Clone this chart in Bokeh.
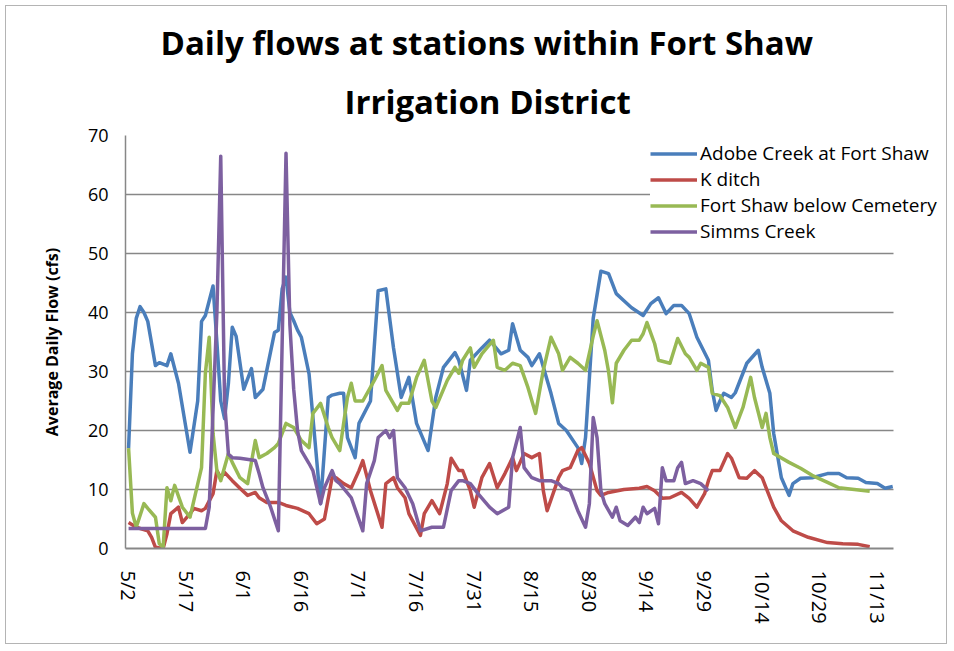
from bokeh.plotting import figure
from bokeh.models import FixedTicker, Title, Range1d
from bokeh.embed import file_html
from bokeh.resources import INLINE

# x = days after 5/2
tick_days = [0, 15, 30, 45, 60, 75, 90, 105, 120, 135, 150, 165, 180, 195]
tick_labels = ["5/2", "5/17", "6/1", "6/16", "7/1", "7/16", "7/31", "8/15",
               "8/30", "9/14", "9/29", "10/14", "10/29", "11/13"]
y_ticks = [0, 10, 20, 30, 40, 50, 60, 70]

series_names = ["Adobe Creek at Fort Shaw", "K ditch", "Fort Shaw below Cemetery", "Simms Creek"]

adobe_day = [0, 1, 2, 3, 4, 5, 7, 8, 10, 11, 12, 13, 16, 18, 19, 20, 21, 22, 23, 24, 25, 26, 27, 28,
             30, 32, 33, 35, 38, 39, 40, 41, 42, 43, 44, 45, 47, 50, 52, 53, 55, 56, 57, 59, 60, 63,
             65, 67, 69, 71, 73, 75, 78, 80, 82, 85, 86, 88, 89, 92, 94, 97, 99, 100, 102, 104, 105,
             107, 110, 112, 114, 117, 118, 119, 121, 123, 125, 127, 129, 131, 134, 136, 138, 140,
             142, 144, 146, 148, 151, 152, 153, 154, 155, 157, 158, 161, 164, 165, 167, 168, 170,
             172, 173, 175, 178, 182, 185, 187, 190, 192, 195, 197, 199]
adobe_cfs = [17, 33, 39, 41, 40, 38.5, 31, 31.5, 31, 33, 30.5, 28, 16.3, 25, 38.5, 39.5, 42, 44.5,
             35, 25, 22, 28, 37.5, 36, 27, 30.5, 25.6, 27, 36.6, 37, 44, 46, 40, 38.6, 37, 35.8,
             29.6, 7.6, 25.6, 26, 26.3, 26.3, 18.8, 15.4, 21.2, 25, 43.7, 44, 34, 25.6, 29, 21.2,
             16.6, 25.6, 30.7, 33.2, 31.9, 26.8, 31.9, 34, 35.3, 33, 33.6, 38.1, 33.6, 32.4, 31,
             33, 26.3, 21.2, 20, 17.1, 14.4, 18.8, 39, 47, 46.6, 43.2, 42, 40.8, 39.5, 41.5, 42.5,
             39.8, 41.2, 41.2, 39.8, 35.8, 31.9, 26.8, 23.4, 25, 26.3, 25.6, 26.4, 31.4, 33.6,
             30.7, 26.3, 19.5, 12, 9, 11, 11.9, 12, 12.7, 12.7, 12, 11.9, 11.2, 11, 10.2, 10.5]

kditch_day = [0, 2, 5, 6, 7, 9, 10, 11, 13, 14, 16, 17, 19, 20, 22, 23, 24, 25, 27, 29, 31, 33, 34,
              36, 39, 41, 44, 47, 49, 51, 53, 54, 55, 56, 58, 60, 61, 63, 66, 67, 69, 70, 72, 73,
              76, 77, 79, 81, 83, 84, 86, 87, 89, 90, 92, 94, 96, 98, 100, 101, 103, 105, 107, 108,
              109, 112, 113, 115, 117, 118, 120, 122, 123, 125, 129, 133, 135, 137, 139, 141, 144,
              146, 148, 150, 151, 152, 154, 156, 157, 159, 161, 163, 165, 166, 168, 170, 173, 177,
              182, 186, 190, 193]
kditch_cfs = [4.4, 3.6, 3, 1.9, 0.2, 0, 2.5, 5.9, 7, 4.4, 5.9, 6.8, 6.4, 6.8, 9.3, 13.2, 12, 12.9,
              11.5, 10.2, 9, 9.5, 8.6, 7.8, 7.8, 7.3, 6.8, 5.9, 4.2, 5, 12, 12, 11.5, 11, 10.3,
              13.2, 14.9, 9.8, 3.6, 11, 12, 10.3, 8.6, 5.9, 2.2, 5.9, 8.1, 5.9, 11, 15.3, 13.2,
              13.2, 9.8, 7, 12, 14.4, 10.3, 12.7, 15.4, 13.2, 16.1, 15.4, 16.1, 9.8, 6.4, 12, 13.2,
              13.7, 16.6, 17.1, 14.4, 9.8, 9, 9.5, 10, 10.2, 10.5, 9.8, 8.5, 8.6, 9.5, 8.5, 7, 9.3,
              11.5, 13.2, 13.2, 16.1, 15.3, 12, 11.9, 13.2, 12, 10.3, 7, 4.7, 3, 1.9, 1, 0.8, 0.7,
              0.3]

fortshaw_day = [0, 1, 2, 4, 5, 7, 8, 9, 10, 11, 12, 14, 16, 17, 19, 20, 21, 22, 23, 24, 26, 27, 29,
                31, 33, 34, 36, 38, 39, 41, 43, 45, 47, 48, 50, 52, 53, 55, 56, 57, 58, 59, 61, 64,
                66, 67, 70, 71, 73, 75, 77, 79, 80, 83, 85, 86, 87, 89, 90, 92, 95, 96, 98, 100,
                102, 104, 106, 108, 110, 112, 113, 115, 117, 119, 121, 122, 124, 125, 126, 127, 129,
                131, 133, 134, 135, 137, 138, 141, 143, 145, 146, 148, 149, 151, 152, 154, 156, 158,
                160, 162, 163, 165, 166, 167, 168, 172, 175, 178, 182, 185, 189, 193]
fortshaw_cfs = [17, 6, 3.6, 7.6, 6.8, 5.3, 0.8, 0.2, 10.3, 8.1, 10.7, 7, 5.3, 8.1, 13.7, 29.7, 35.8,
                19.5, 13.2, 11.5, 16.1, 14.6, 12, 11, 18.3, 15.4, 16.1, 17.1, 17.8, 21.2, 20.5,
                18.3, 17.1, 22.9, 24.6, 20.5, 18.8, 16.6, 21.2, 25.6, 28, 25, 25, 28.5, 31, 26.8,
                23.4, 24.6, 24.6, 29, 31.9, 25, 23.9, 28.5, 30.7, 29.7, 31.9, 34, 30.7, 33, 35.3,
                30.7, 30.2, 31.4, 31, 27.3, 22.9, 30.2, 35.8, 33, 30.2, 32.4, 31.4, 30.2, 36, 38.6,
                33.6, 30, 24.7, 31.4, 33.6, 35.3, 35.3, 36.4, 38.3, 34.7, 31.9, 31.4, 35.6, 33,
                32.4, 30.2, 31.4, 30.7, 26.3, 25.9, 23.9, 20.5, 23.9, 29, 25.6, 20.5, 22.9, 18.8,
                16.1, 14.6, 13.6, 12.4, 11.2, 10.3, 10, 9.7]

simms_day = [0, 20, 21, 23, 24, 25, 26, 27, 29, 33, 34, 35, 37, 39, 40, 41, 42, 43, 44, 45, 47, 48,
             50, 51, 53, 54, 55, 58, 61, 62, 64, 65, 67, 68, 69, 70, 72, 74, 76, 79, 82, 84, 86, 87,
             89, 91, 94, 96, 99, 100, 102, 103, 105, 107, 110, 112, 113, 115, 117, 119, 120, 121,
             122, 123, 124, 126, 127, 128, 130, 132, 133, 134, 135, 137, 138, 139, 140, 142, 143,
             144, 145, 147, 149, 151]
simms_cfs = [3.4, 3.4, 7, 40, 66.5, 25, 16, 15.4, 15.3, 14.9, 12.7, 10.3, 7, 3, 35, 67, 38, 27, 20,
             16.6, 14.4, 13.2, 7.6, 10.3, 13.2, 11.5, 11, 8.6, 3, 11, 14.9, 18.8, 20, 18.8, 20, 12,
             10.3, 7.6, 3, 3.6, 3.6, 9.8, 11.5, 11.5, 11, 9.3, 7, 5.9, 7, 15.4, 20.5, 13.7, 12,
             11.5, 11.5, 11, 10.3, 9.8, 6.4, 3.6, 7.6, 22.2, 18.8, 9.8, 7.6, 5.3, 7, 4.7, 3.9, 5.3,
             4.4, 7, 5.9, 6.8, 4.2, 13.7, 11.5, 11.5, 13.7, 14.6, 11, 11.5, 11, 9.8]

colors = ["#4A7EBB", "#BE4B48", "#98B954", "#7D60A0"]

FONT = "Open Sans"

X_START = -0.8
X_DATA_END = 199.3
PX_PER_DAY = 3.84
FRAME_W = 820
x_end = X_START + FRAME_W / PX_PER_DAY

p = figure(width=942, height=639, output_backend="svg", toolbar_location=None,
           x_range=Range1d(X_START, x_end), y_range=Range1d(0, 70),
           min_border_left=119, min_border_right=3, min_border_top=129, min_border_bottom=97,
           background_fill_color="white", border_fill_color="white",
           styles={"border": "1px solid #b4b4b4", "margin": "5px"})

p.title.text = "Daily flows at stations within Fort Shaw"
p.title.align = "left"
p.title.text_font = FONT
p.title.text_font_size = "33px"
p.title.text_font_style = "bold"
p.title.text_color = "#000000"
p.title.offset = 35
p.title.standoff = 0

t2 = Title(text="Irrigation District", align="left",
           text_font=FONT, text_font_size="33px", text_font_style="bold",
           text_color="#000000", offset=219, standoff=24)
p.add_layout(t2, "above")

for xs, ys, c, name in zip([adobe_day, kditch_day, fortshaw_day, simms_day],
                           [adobe_cfs, kditch_cfs, fortshaw_cfs, simms_cfs],
                           colors, series_names):
    p.line(xs, ys, line_color=c, line_width=3.5, line_join="round", legend_label=name)

p.xaxis.ticker = FixedTicker(ticks=tick_days)
p.xaxis.major_label_overrides = {d: l for d, l in zip(tick_days, tick_labels)}
p.xaxis.major_label_orientation = "vertical"
p.xaxis.bounds = (X_START, X_DATA_END)
p.yaxis.ticker = FixedTicker(ticks=y_ticks)

for ax in (p.xaxis[0], p.yaxis[0]):
    ax.major_tick_line_color = None
    ax.major_tick_out = 0
    ax.major_tick_in = 0
    ax.minor_tick_line_color = None
    ax.major_label_text_font = FONT
    ax.major_label_text_color = "#000000"
    ax.axis_line_color = "#878787"

p.xaxis.major_label_text_font_size = "20px"
p.xaxis.major_label_standoff = 22
p.yaxis.major_label_text_font_size = "18px"
p.yaxis.major_label_standoff = 17

p.xaxis.axis_line_width = 2
p.yaxis.axis_line_width = 1.5
p.yaxis.axis_label = "Average Daily Flow (cfs)"
p.yaxis.axis_label_text_font = FONT
p.yaxis.axis_label_text_font_size = "16px"
p.yaxis.axis_label_text_font_style = "bold"
p.yaxis.axis_label_text_color = "#000000"
p.yaxis.axis_label_standoff = 22

p.xgrid.visible = False
p.ygrid.grid_line_color = "#878787"
p.ygrid.grid_line_width = 1.5
p.ygrid.cross_bounds = (X_START, X_DATA_END)
p.outline_line_color = None

lg = p.legend[0]
lg.location = (525, 304)
lg.padding = 0
lg.margin = 0
lg.spacing = 0
lg.glyph_width = 47
lg.glyph_height = 25
lg.label_height = 25
lg.label_standoff = 3
lg.label_text_font = FONT
lg.label_text_font_size = "19px"
lg.label_text_color = "#000000"
lg.border_line_color = None
lg.background_fill_color = "white"
lg.background_fill_alpha = 1.0

open("out.html", "w").write(file_html(p, INLINE))
